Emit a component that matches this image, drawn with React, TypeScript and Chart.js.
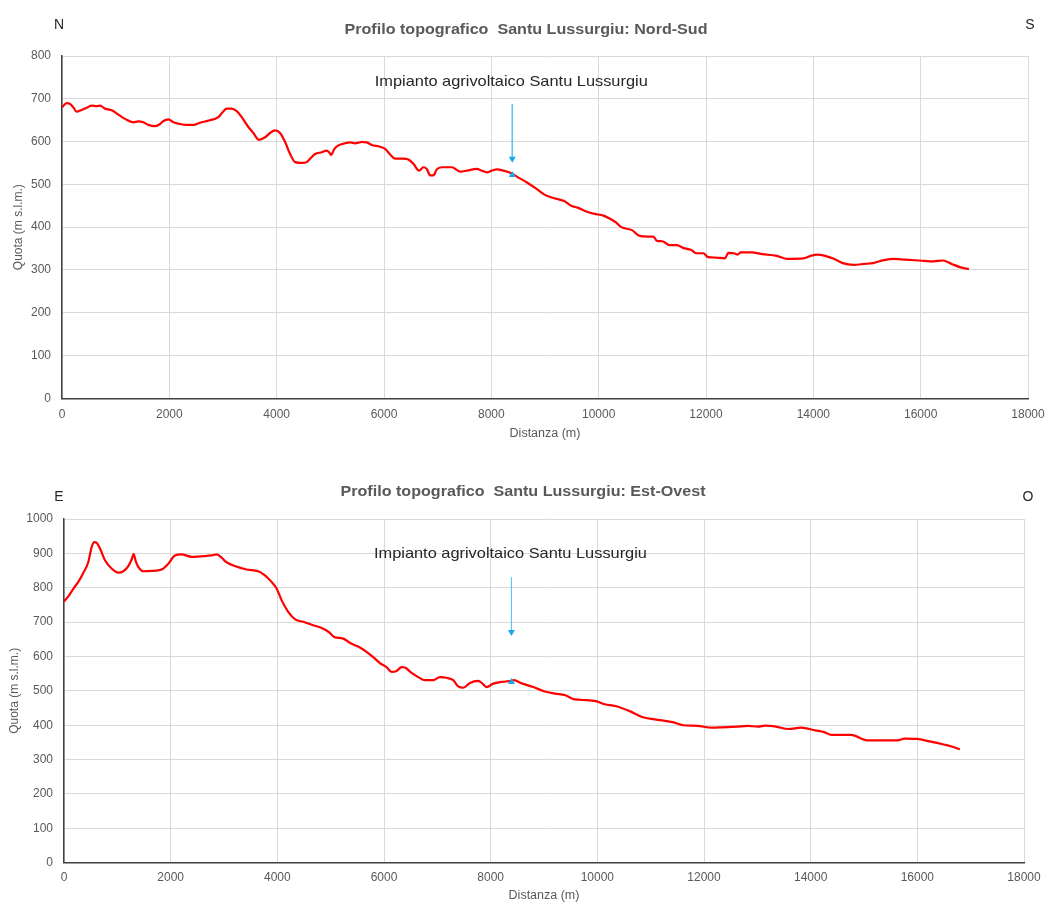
import React, { useEffect, useRef } from "react";
import { Chart, registerables } from "chart.js";

Chart.register(...registerables);

// ---------- Data ----------
const X_TICKS = [0, 2000, 4000, 6000, 8000, 10000, 12000, 14000, 16000, 18000];
const NS_Y_TICKS = [0, 100, 200, 300, 400, 500, 600, 700, 800];
const EO_Y_TICKS = [0, 100, 200, 300, 400, 500, 600, 700, 800, 900, 1000];

const NS_TITLE = "Profilo topografico  Santu Lussurgiu: Nord-Sud";
const EO_TITLE = "Profilo topografico  Santu Lussurgiu: Est-Ovest";
const NS_ENDS = ["N", "S"];
const EO_ENDS = ["E", "O"];
const ANNOTATION = "Impianto agrivoltaico Santu Lussurgiu";
const X_TITLE = "Distanza (m)";
const Y_TITLE = "Quota (m s.l.m.)";

const NS_DIST = [
  0, 87, 149, 211, 273, 367, 460, 553, 646, 708, 801, 926, 1050, 1174, 1330, 1423, 1516, 1609, 1734, 1827,
  1889, 1982, 2075, 2199, 2324, 2448, 2572, 2727, 2914, 2976, 3069, 3162, 3256, 3349, 3473, 3566, 3672, 3784, 3877, 3970,
  4063, 4157, 4250, 4343, 4467, 4561, 4623, 4716, 4840, 4933, 4977, 5014, 5076, 5150, 5275, 5368, 5461, 5586, 5679, 5772,
  5927, 6020, 6114, 6207, 6362, 6455, 6548, 6654, 6735, 6797, 6859, 6921, 6983, 7077, 7263, 7419, 7543, 7729, 7822, 7915,
  8008, 8102, 8226, 8350, 8490, 8656, 8823, 8989, 9156, 9355, 9488, 9622, 9755, 9921, 10088, 10221, 10321, 10421, 10621, 10753,
  10920, 11020, 11086, 11186, 11319, 11452, 11586, 11719, 11819, 11952, 12038, 12185, 12351, 12418, 12518, 12585, 12651, 12851, 13050, 13316,
  13516, 13816, 13949, 14082, 14215, 14382, 14548, 14748, 14948, 15114, 15314, 15513, 15713, 15979, 16246, 16412, 16578, 16745, 16898,
];
const NS_QUOTA = [
  680, 690, 688, 680, 670, 674, 679, 684, 683, 684, 677, 673, 663, 653, 645, 647, 645, 639, 636, 641,
  648, 652, 645, 641, 639, 639, 644, 649, 657, 666, 677, 677, 671, 657, 634, 620, 604, 610, 620, 626,
  620, 599, 571, 552, 550, 552, 560, 571, 575, 579, 575, 569, 583, 591, 596, 598, 596, 599, 598, 592,
  588, 583, 570, 560, 560, 558, 548, 532, 540, 536, 521, 521, 535, 540, 540, 530, 532, 536, 532, 528,
  532, 535, 532, 527, 517, 505, 491, 476, 468, 461, 450, 445, 437, 431, 427, 419, 411, 400, 393, 380,
  378, 378, 368, 367, 358, 358, 351, 347, 339, 339, 330, 329, 327, 340, 339, 336, 341, 341, 337, 333,
  326, 327, 333, 336, 333, 326, 316, 312, 314, 316, 323, 326, 324, 322, 320, 322, 314, 306, 302,
];

const EO_DIST = [
  0, 81, 175, 268, 362, 456, 519, 568, 612, 675, 768, 893, 1018, 1112, 1206, 1268, 1306, 1349, 1393, 1487,
  1643, 1830, 1956, 2080, 2205, 2393, 2643, 2767, 2861, 2955, 3030, 3204, 3423, 3642, 3767, 3892, 3986, 4079, 4204, 4342,
  4486, 4673, 4861, 4967, 5067, 5235, 5392, 5548, 5704, 5829, 5923, 6048, 6142, 6236, 6329, 6392, 6517, 6642, 6767, 6923,
  7048, 7173, 7298, 7392, 7486, 7611, 7767, 7861, 7923, 8048, 8204, 8392, 8432, 8599, 8800, 9001, 9201, 9402, 9570, 9804,
  9971, 10139, 10339, 10607, 10841, 11075, 11410, 11611, 11879, 12146, 12347, 12615, 12816, 13017, 13150, 13351, 13585, 13820, 14087, 14255,
  14388, 14757, 15058, 15627, 15761, 15995, 16229, 16497, 16630, 16798,
];
const EO_QUOTA = [
  760, 775, 797, 817, 843, 875, 919, 933, 931, 914, 880, 856, 844, 848, 863, 882, 898, 875, 861, 848,
  849, 853, 870, 894, 897, 890, 892, 894, 897, 888, 876, 863, 853, 848, 836, 817, 798, 764, 730, 707,
  701, 691, 681, 671, 657, 652, 637, 626, 610, 594, 581, 569, 555, 558, 569, 568, 552, 540, 531, 531,
  540, 538, 531, 513, 509, 523, 529, 519, 511, 521, 526, 529, 531, 521, 511, 499, 492, 487, 475, 473,
  470, 461, 456, 441, 424, 417, 409, 400, 398, 393, 394, 396, 398, 396, 399, 396, 389, 393, 385, 380,
  372, 372, 356, 356, 361, 360, 353, 344, 339, 330,
];

// arrow: [distance, arrow start quota, arrow head quota, site marker quota, label quota]
const NS_ARROW = [8390, 688, 560, 522, 740];
const EO_ARROW = [8390, 831, 671, 526, 900];

// ---------- Styling ----------
const FONT = '"Liberation Sans", Arial, sans-serif';
const AXIS_GRAY = "#595959";
const GRID = "#d9d9d9";
const BLUE_LINE = "#5cc6f2";
const BLUE_HEAD = "#12a9e8";

type Layout = {
  height: number;
  top: number;
  padTop: number;
  padRight: number;
  yWidth: number;
  xHeight: number;
  xTickPad: number;
  xTitlePad: number;
  yTitlePad: number;
  titleX: number;
  titleY: number;
  titleW: number;
  annotW: number;
  endsY: number;
  leftX: number;
  rightX: number;
};

function stretchedText(ctx: CanvasRenderingContext2D, text: string, cx: number, cy: number, width: number) {
  const w = ctx.measureText(text).width;
  const k = w > 0 ? width / w : 1;
  ctx.save();
  ctx.translate(cx, cy);
  ctx.scale(k, 1);
  ctx.fillText(text, 0, 0);
  ctx.restore();
}

function buildChart(
  canvas: HTMLCanvasElement,
  dist: number[],
  quota: number[],
  yTicks: number[],
  arrow: number[],
  title: string,
  ends: string[],
  L: Layout
) {
  const profile = dist.map((d, i) => ({ x: d, y: quota[i] }));
  const [ax, aFrom, aTo, aMark, aLabel] = arrow;

  const textPlugin = {
    id: "profileTexts",
    afterDraw(chart: any) {
      const ctx = chart.ctx as CanvasRenderingContext2D;
      const xs = chart.scales.x;
      const ys = chart.scales.y;
      ctx.save();
      ctx.textAlign = "center";
      ctx.textBaseline = "middle";
      ctx.font = `bold 14px ${FONT}`;
      ctx.fillStyle = AXIS_GRAY;
      stretchedText(ctx, title, L.titleX, L.titleY, L.titleW);
      ctx.font = `14px ${FONT}`;
      ctx.fillStyle = "#262626";
      ctx.fillText(ends[0], L.leftX, L.endsY);
      ctx.fillText(ends[1], L.rightX, L.endsY);
      ctx.font = `15px ${FONT}`;
      ctx.fillStyle = "#262626";
      stretchedText(ctx, ANNOTATION, xs.getPixelForValue(ax) - 1, ys.getPixelForValue(aLabel), L.annotW);
      ctx.restore();
    },
  };

  const yMax = yTicks[yTicks.length - 1];

  return new Chart(canvas, {
    type: "line",
    data: {
      datasets: [
        {
          data: profile,
          borderColor: "#ff0000",
          borderWidth: 2.2,
          pointRadius: 0,
          cubicInterpolationMode: "monotone",
          fill: false,
          order: 3,
        } as any,
        {
          data: [
            { x: ax, y: aFrom },
            { x: ax, y: aTo },
          ],
          borderColor: BLUE_LINE,
          borderWidth: 1,
          pointRadius: [0, 4],
          pointStyle: "triangle",
          pointRotation: 180,
          pointBackgroundColor: BLUE_HEAD,
          pointBorderColor: BLUE_HEAD,
          pointBorderWidth: 0,
          order: 2,
        } as any,
        {
          data: [{ x: ax, y: aMark }],
          showLine: false,
          pointRadius: 4,
          pointStyle: "triangle",
          pointBackgroundColor: BLUE_HEAD,
          pointBorderColor: BLUE_HEAD,
          pointBorderWidth: 0,
          order: 1,
        } as any,
      ],
    },
    options: {
      animation: false,
      responsive: false,
      events: [],
      layout: { padding: { top: L.padTop, right: L.padRight, bottom: 0, left: 0 } },
      plugins: {
        legend: { display: false },
        tooltip: { enabled: false },
        title: { display: false },
      },
      scales: {
        x: {
          type: "linear",
          min: X_TICKS[0],
          max: X_TICKS[X_TICKS.length - 1],
          afterBuildTicks: (s: any) => {
            s.ticks = X_TICKS.map((v) => ({ value: v }));
          },
          ticks: {
            color: AXIS_GRAY,
            font: { family: FONT, size: 12 },
            padding: L.xTickPad,
            maxRotation: 0,
            autoSkip: false,
            callback: (v: any) => String(v),
          },
          grid: { color: GRID, lineWidth: 1, drawTicks: false },
          border: { color: "#404040", width: 1.5 },
          title: {
            display: true,
            text: X_TITLE,
            color: AXIS_GRAY,
            font: { family: FONT, size: 12.5 },
            padding: { top: 0, bottom: L.xTitlePad },
          },
          afterFit: (s: any) => {
            s.height = L.xHeight;
            s.paddingLeft = 0;
            s.paddingRight = 0;
          },
        },
        y: {
          type: "linear",
          min: yTicks[0],
          max: yMax,
          afterBuildTicks: (s: any) => {
            s.ticks = yTicks.map((v) => ({ value: v }));
          },
          ticks: {
            color: AXIS_GRAY,
            font: { family: FONT, size: 12 },
            padding: 11,
            callback: (v: any) => String(v),
          },
          grid: { color: GRID, lineWidth: 1, drawTicks: false },
          border: { color: "#404040", width: 1.5 },
          title: {
            display: true,
            text: Y_TITLE,
            color: AXIS_GRAY,
            font: { family: FONT, size: 12 },
            padding: { top: L.yTitlePad, bottom: 0 },
          },
          afterFit: (s: any) => {
            s.width = L.yWidth;
            s.paddingTop = 0;
            s.paddingBottom = 0;
          },
        },
      },
    } as any,
    plugins: [textPlugin],
  });
}

const NS_LAYOUT: Layout = {
  height: 455,
  top: 0,
  padTop: 56,
  padRight: 19,
  yWidth: 62,
  xHeight: 56.7,
  xTickPad: 9,
  xTitlePad: 13.8,
  yTitlePad: 11.3,
  titleX: 526,
  titleY: 30,
  titleW: 363,
  annotW: 273,
  endsY: 25,
  leftX: 59,
  rightX: 1030,
};

const EO_LAYOUT: Layout = {
  height: 448,
  top: 455,
  padTop: 64,
  padRight: 23,
  yWidth: 64,
  xHeight: 40.3,
  xTickPad: 8,
  xTitlePad: 0,
  yTitlePad: 7.8,
  titleX: 523,
  titleY: 37.5,
  titleW: 365,
  annotW: 273,
  endsY: 42.5,
  leftX: 59,
  rightX: 1028,
};

export default function App() {
  const refA = useRef<HTMLCanvasElement>(null);
  const refB = useRef<HTMLCanvasElement>(null);

  useEffect(() => {
    const a = buildChart(refA.current!, NS_DIST, NS_QUOTA, NS_Y_TICKS, NS_ARROW, NS_TITLE, NS_ENDS, NS_LAYOUT);
    const b = buildChart(refB.current!, EO_DIST, EO_QUOTA, EO_Y_TICKS, EO_ARROW, EO_TITLE, EO_ENDS, EO_LAYOUT);
    return () => {
      a.destroy();
      b.destroy();
    };
  }, []);

  return (
    <div style={{ position: "absolute", left: 0, top: 0, width: 1047, height: 903, background: "#ffffff" }}>
      <canvas
        ref={refA}
        width={1047}
        height={NS_LAYOUT.height}
        style={{ position: "absolute", left: 0, top: NS_LAYOUT.top, width: 1047, height: NS_LAYOUT.height }}
      />
      <canvas
        ref={refB}
        width={1047}
        height={EO_LAYOUT.height}
        style={{ position: "absolute", left: 0, top: EO_LAYOUT.top, width: 1047, height: EO_LAYOUT.height }}
      />
    </div>
  );
}
